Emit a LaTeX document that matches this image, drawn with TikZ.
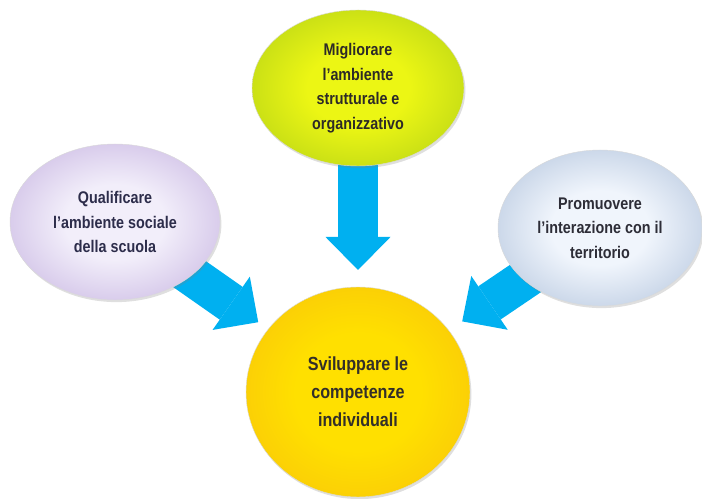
\documentclass[tikz,border=0pt]{standalone}
\usepackage{fontspec}
\setmainfont{Liberation Sans}[FakeStretch=0.85]
\usetikzlibrary{arrows.meta, shapes.geometric, shadows, backgrounds, positioning}
\definecolor{mySkyBlue}{RGB}{0, 176, 240}
\definecolor{myLime}{RGB}{236, 246, 20}
\definecolor{myOlive}{RGB}{150, 190, 24}
\definecolor{myLilac}{RGB}{242, 238, 250}
\definecolor{myPurple}{RGB}{176, 150, 212}
\definecolor{myIce}{RGB}{240, 245, 252}
\definecolor{mySteel}{RGB}{146, 170, 204}
\definecolor{myGold}{RGB}{255, 224, 0}
\definecolor{myAmber}{RGB}{244, 178, 16}
% soft radial fills, light middle
\pgfdeclareradialshading{limeshade}{\pgfpoint{0bp}{0bp}}{color(0bp)=(myLime); color(12bp)=(myLime); color(46bp)=(myOlive); color(50bp)=(myOlive)}
\pgfdeclareradialshading{lilacshade}{\pgfpoint{0bp}{0bp}}{color(0bp)=(myLilac); color(12bp)=(myLilac); color(46bp)=(myPurple); color(50bp)=(myPurple)}
\pgfdeclareradialshading{iceshade}{\pgfpoint{0bp}{0bp}}{color(0bp)=(myIce); color(12bp)=(myIce); color(46bp)=(mySteel); color(50bp)=(mySteel)}
\pgfdeclareradialshading{goldshade}{\pgfpoint{0bp}{0bp}}{color(0bp)=(myGold); color(14bp)=(myGold); color(46bp)=(myAmber); color(50bp)=(myAmber)}
\tikzstyle{blob}= [ellipse, align=center, draw=black!15, line width=0.3pt,
  font=\bfseries\fontsize{12}{17.5}\selectfont,
  drop shadow={opacity=0.25, shadow xshift=1pt, shadow yshift=-1.5pt}]
\tikzstyle{Blob}= [minimum width=5.25cm, minimum height=3.9cm, blob]
\tikzstyle{fat}= [draw=mySkyBlue, line width=1cm,
  -{Triangle[width=1.625cm, length=0.825cm, line width=0pt]}, shorten <=-0.6cm]

\begin{document}
\begin{tikzpicture}[node distance=7.6cm]
    \useasboundingbox (0,0) rectangle (17.55,12.475);

    \node [Blob, minimum width=5.6cm, minimum height=5.25cm,
      shading=goldshade, text=black!85!olive,
      font=\bfseries\fontsize{13.5}{20}\selectfont] (Sviluppare) at (8.95,2.675)
    {Sviluppare le\\ competenze\\ individuali};

    \node [Blob, above of=Sviluppare, minimum width=5.3cm,
      shading=limeshade, text=black!90!olive] (Migliorare)
    {Migliorare\\ l'ambiente\\ strutturale e\\ organizzativo};

    \node [Blob, shading=lilacshade,
      text={rgb,255:red,45;green,45;blue,75}] (Qualificare) at (2.875,6.925)
    {Qualificare\\ l'ambiente sociale\\ della scuola};

    \node [Blob, minimum width=5.1cm, shading=iceshade,
      text={rgb,255:red,45;green,45;blue,55}] (Promuovere) at (15.0,6.775)
    {Promuovere\\ l'interazione con il\\ territorio};

    % arrows into the centre
    \begin{scope}[on background layer]
      \draw [fat, shorten >=0.42cm] (Migliorare) -- (Sviluppare);
      \draw [fat, shorten >=0.3cm] (Qualificare) -- (Sviluppare);
      \draw [fat, shorten >=0.4cm] (Promuovere) -- (Sviluppare);
    \end{scope}

\end{tikzpicture}
\end{document}
